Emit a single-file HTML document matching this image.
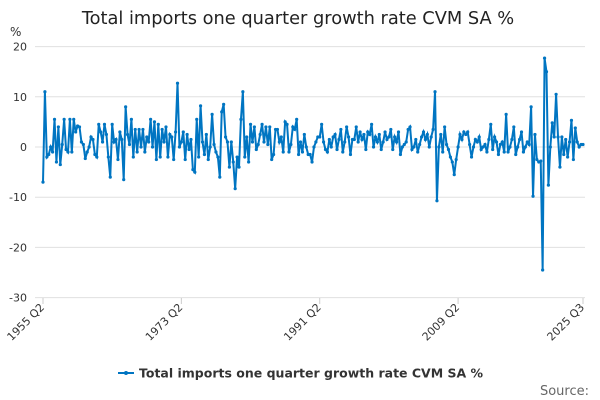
<!DOCTYPE html>
<html><head><meta charset="utf-8"><style>
body{margin:0;background:#fff;font-family:"DejaVu Sans",sans-serif}
svg{display:block;font-family:"DejaVu Sans",sans-serif}
</style></head><body>
<svg id="chart" width="600" height="400">
<text x="298" y="24" text-anchor="middle" font-size="17.8" fill="#222">Total imports one quarter growth rate CVM SA %</text>
<text x="10" y="36" font-size="12" fill="#333">%</text>
<g id="grid"></g><g id="xaxis"></g>
<path id="line" fill="none" stroke="#0075c2" stroke-width="2"></path>
<g id="pts"></g>
<g>
<line x1="118" y1="373" x2="134" y2="373" stroke="#0075c2" stroke-width="2"/>
<circle cx="126" cy="373" r="2" fill="#0075c2"/>
<text x="139" y="377.5" font-size="12.5" font-weight="bold" fill="#333">Total imports one quarter growth rate CVM SA %</text>
</g>
<text x="589" y="395" text-anchor="end" font-size="13" fill="#666">Source:</text>
</svg>
<script>
const values=[-7,11,-2,-1.5,0,-1,5.5,-3,4,-3.5,
0.5,5.5,-0.5,-1,5.5,-1,5.5,3,4.2,4,
1,0.5,-2.3,-1,0,2,1.5,-1.5,-2,4.5,
3,1,4.5,2.5,-2,-6,4.5,1,1.5,-2.5,
3,1.5,-6.5,8,2.5,0.5,5.5,-2,3.5,-1,
3.5,0,3.5,-1,2,1,5.5,0,5,-2.5,4.5,-2,3.5,1,4,-2,2.5,2,-2.5,3,
12.7,
0,1,3,-2.5,2.5,-0.5,1.5,-4.5,-5,5.5,-2,8.2,1,-1.5,2.5,-2.5,0,6.5,0.5,-1,-2,-6,7,8.5,
2,1,-4,1,-3,-8.3,-2,-4,5.5,11,-2,2,-3,4.5,1,
4,-0.5,0.5,2.5,4.5,1,4,0.5,4,-2.5,-1.5,3.5,3.5,1,2,-1,5,4.5,-1,0.5,4,3.5,5.5,-1.5,1,-1,2.5,0,-1.5,-1.5,-3,0,1,2,
2,4.5,1,-0.5,-1,1.5,0,2,2.5,-0.5,1.5,3.5,-1,1,4,2,-1.5,1.5,1.5,4,1,3,1.5,2.5,-0.5,3,2.5,4.5,0,2,1,2.5,-0.5,1,3,1.5,2,3.5,-0.5,2,1,3,-1.5,0,0.5,1,3.5,4,-0.5,0,1.5,-1,0.5,2,3,1.5,2.5,0,2,3.5,
11,-10.7,
0,2.5,-1,4,0.5,-0.5,-2,-3,-5.5,-2.5,0,2.5,1.5,3,2.5,
3,0.5,-2,0,1.5,1,2,-0.5,0,0.5,-1,1.5,4.5,-0.5,2,1,-1.5,0.5,1,-1,6.5,-1,0,1.5,4,-1.5,0,1.5,3,-1,0,1,0.5,
8,-9.8,2.5,-2.5,-3,-2.8,-24.5,17.7,15,-7.6,
0,4.8,2,10.5,2,-4,2,-1.5,1.5,-2,1,5.3,-2.5,3.8,1,0,0.5,0.5];
const yTicks=[20,10,0,-10,-20,-30];
const xTickLabels=["1955 Q2","1973 Q2","1991 Q2","2009 Q2","2025 Q3"];
const xTickIndex=[0,72,144,216,281];
const ns="http://www.w3.org/2000/svg";
const X0=43,X1=583,N=281;
const x=i=>X0+(X1-X0)*i/N;
const y=v=>147-(v)*5.02;
const grid=document.getElementById('grid');
yTicks.forEach(t=>{
 const l=document.createElementNS(ns,'line');
 l.setAttribute('x1',35);l.setAttribute('x2',585);l.setAttribute('y1',y(t));l.setAttribute('y2',y(t));
 l.setAttribute('stroke','#e0e0e0');l.setAttribute('stroke-width','1');
 
 
 grid.appendChild(l);
 const tx=document.createElementNS(ns,'text');
 tx.setAttribute('x',27);tx.setAttribute('y',y(t)+4);tx.setAttribute('text-anchor','end');
 tx.setAttribute('font-size','11');tx.setAttribute('fill','#333');tx.textContent=t;
 
 
 grid.appendChild(tx);
});
const xa=document.getElementById('xaxis');
xTickLabels.forEach((lab,k)=>{
 const px=x(xTickIndex[k]);
 const l=document.createElementNS(ns,'line');
 l.setAttribute('x1',px);l.setAttribute('x2',px);l.setAttribute('y1',298);l.setAttribute('y2',304);
 l.setAttribute('stroke','#ccc');
 
 
 xa.appendChild(l);
 const tx=document.createElementNS(ns,'text');
 tx.setAttribute('x',px+2);tx.setAttribute('y',308);tx.setAttribute('text-anchor','end');
 tx.setAttribute('font-size','11');tx.setAttribute('fill','#333');
 tx.setAttribute('transform','rotate(-45 '+(px+2)+' 308)');tx.textContent=lab;
 
 
 xa.appendChild(tx);
});
let d='';
values.forEach((v,i)=>{d+=(i?'L':'M')+x(i).toFixed(2)+' '+y(v).toFixed(2);});
document.getElementById('line').setAttribute('d',d);
const pts=document.getElementById('pts');
values.forEach((v,i)=>{
 const c=document.createElementNS(ns,'circle');
 c.setAttribute('cx',x(i));c.setAttribute('cy',y(v));c.setAttribute('r',1.6);c.setAttribute('fill','#0075c2');
 
 
 pts.appendChild(c);
});
</script>
</body></html>
